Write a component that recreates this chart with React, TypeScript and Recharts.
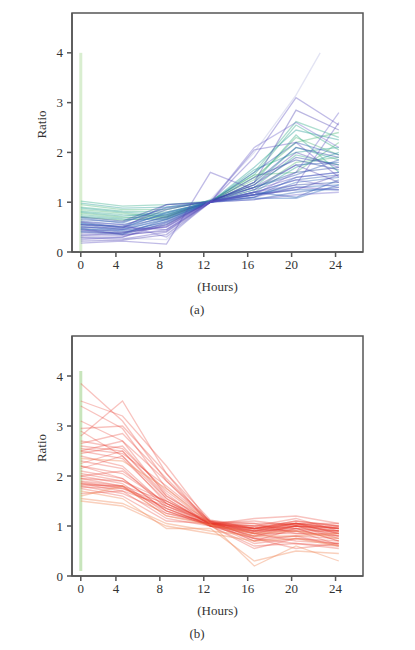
import React from "react";
import { LineChart, Line, XAxis, YAxis, ReferenceArea, ReferenceLine } from "recharts";

// ---- shared axis data ----
const xTickPos = [0.8, 4, 8, 12, 16, 20, 24];
const xTickLabels = ["0", "4", "8", "12", "16", "20", "24"];
const yTicks = [0, 1, 2, 3, 4];
const xDomain = [0, 26.5];
const yDomain = [0, 4.8];
const timesA = [0.8, 4.6, 8.6, 12.6, 16.6, 20.4, 24.3];
const timesB = [0.8, 4.6, 8.6, 12.6, 16.6, 20.4, 24.3];

// ---- panel (a) series ----
const greenA = [
  [1.02, 0.92, 0.95, 1.02, 1.55, 2.55, 2.05],
  [0.98, 0.88, 0.9, 1.0, 1.7, 2.45, 2.25],
  [0.95, 0.85, 0.85, 1.03, 1.45, 2.3, 1.95],
  [0.9, 0.82, 0.8, 1.0, 1.6, 2.62, 2.3],
  [0.88, 0.8, 0.75, 1.02, 1.35, 2.1, 1.85],
  [0.85, 0.78, 0.7, 1.0, 1.5, 2.2, 2.4],
  [0.82, 0.75, 0.72, 1.05, 1.3, 1.95, 1.75],
  [0.8, 0.72, 0.78, 1.0, 1.65, 2.0, 2.1],
  [0.78, 0.7, 0.68, 1.02, 1.25, 1.8, 1.9],
  [0.75, 0.68, 0.74, 1.0, 1.4, 2.35, 1.6],
  [0.72, 0.66, 0.65, 1.0, 1.2, 1.7, 2.0],
  [0.7, 0.64, 0.7, 1.02, 1.55, 1.6, 2.2],
];
const blueA = [
  [0.62, 0.55, 0.75, 1.0, 1.2, 1.45, 1.55],
  [0.6, 0.5, 0.7, 1.02, 1.15, 1.35, 1.4],
  [0.58, 0.48, 0.8, 1.0, 1.1, 1.5, 1.6],
  [0.55, 0.45, 0.65, 1.0, 1.25, 1.75, 1.8],
  [0.55, 0.52, 0.85, 1.03, 1.3, 1.6, 1.7],
  [0.52, 0.42, 0.6, 1.0, 1.15, 1.3, 1.35],
  [0.5, 0.46, 0.72, 1.0, 1.05, 1.2, 1.3],
  [0.48, 0.4, 0.55, 1.02, 1.35, 1.9, 1.75],
  [0.45, 0.44, 0.68, 1.0, 1.1, 1.4, 1.5],
  [0.42, 0.38, 0.62, 1.0, 1.2, 1.1, 1.45],
  [0.65, 0.6, 0.88, 1.0, 1.4, 2.1, 1.9],
  [0.68, 0.58, 0.9, 1.02, 1.15, 1.25, 1.25],
  [0.4, 0.35, 0.58, 1.0, 1.3, 1.55, 1.85],
  [0.7, 0.62, 0.95, 1.0, 1.5, 1.85, 1.65],
  [0.57, 0.5, 0.78, 1.01, 1.08, 1.08, 1.35],
  [0.47, 0.36, 0.66, 1.0, 1.6, 2.2, 1.95],
];
const purpleA = [
  [0.38, 0.4, 0.5, 1.0, 1.1, 1.3, 1.25],
  [0.35, 0.33, 0.45, 1.0, 1.2, 1.45, 1.3],
  [0.3, 0.3, 0.55, 1.0, 1.4, 2.85, 2.45],
  [0.28, 0.26, 0.4, 1.0, 2.05, 2.2, 1.5],
  [0.25, 0.3, 0.6, 1.0, 1.15, 1.6, 2.8],
  [0.22, 0.24, 0.35, 1.0, 1.3, 1.75, 1.4],
  [0.18, 0.22, 0.16, 1.6, 1.25, 1.5, 1.6],
  [0.42, 0.45, 0.5, 1.0, 1.05, 1.15, 1.2],
  [0.33, 0.38, 0.52, 1.02, 1.35, 2.0, 1.7],
  [0.5, 0.48, 0.95, 1.0, 1.2, 1.35, 2.6],
  [0.6, 0.55, 0.3, 1.0, 2.1, 2.6, 2.1],
  [0.45, 0.35, 0.42, 1.0, 1.15, 1.25, 1.55],
  [0.55, 0.5, 0.45, 1.0, 1.9, 3.1, 2.55],
];
const faintTimesA = [0.8, 4.6, 8.6, 12.6, 16.6, 20.4, 22.6];
const faintA = [0.3, 0.28, 0.25, 1.05, 2.0, 3.15, 4.0];
const guideA = [0, 4];
const guideB = [0.1, 4.1];
const guideT = 0.8;

// ---- panel (b) series ----
const redB = [
  [3.85, 3.1, 1.9, 1.1, 0.85, 1.0, 0.75],
  [3.5, 3.2, 2.2, 1.05, 0.95, 0.9, 0.8],
  [3.4, 2.95, 1.75, 1.08, 0.7, 0.8, 0.6],
  [3.1, 2.7, 1.6, 1.05, 0.9, 1.05, 0.95],
  [2.9, 2.4, 1.45, 1.1, 0.95, 1.1, 1.0],
  [2.8, 3.5, 2.05, 1.0, 0.75, 0.65, 0.55],
  [2.7, 2.55, 1.7, 1.05, 1.0, 1.15, 0.9],
  [2.6, 2.5, 1.55, 1.02, 0.8, 0.95, 0.7],
  [2.55, 2.45, 1.8, 1.1, 1.05, 0.85, 0.85],
  [2.5, 2.35, 1.5, 1.05, 0.65, 0.75, 0.65],
  [2.45, 2.6, 1.65, 1.0, 0.85, 1.0, 0.95],
  [2.4, 2.2, 1.4, 1.08, 0.95, 1.05, 1.05],
  [2.3, 2.15, 1.35, 1.02, 0.9, 0.95, 0.85],
  [2.25, 2.5, 1.6, 1.1, 0.75, 0.8, 0.75],
  [2.2, 2.05, 1.45, 1.05, 1.1, 1.0, 0.9],
  [2.15, 2.4, 1.55, 1.03, 0.85, 0.7, 0.65],
  [2.1, 1.95, 1.3, 1.0, 0.95, 1.05, 0.95],
  [2.05, 1.9, 1.4, 1.05, 0.8, 1.0, 0.8],
  [2.0, 1.85, 1.25, 1.08, 0.9, 0.9, 0.9],
  [1.95, 1.8, 1.35, 1.02, 1.0, 1.05, 0.85],
  [1.9, 1.8, 1.2, 1.05, 0.7, 0.95, 0.7],
  [1.88, 1.75, 1.45, 1.0, 0.88, 1.0, 0.95],
  [1.85, 1.78, 1.3, 1.05, 0.95, 1.1, 1.0],
  [1.85, 1.7, 1.15, 1.0, 0.6, 0.65, 0.6],
  [1.82, 1.8, 1.5, 1.05, 0.85, 0.85, 0.8],
  [1.8, 1.65, 1.25, 1.03, 1.15, 1.2, 1.05],
  [1.78, 1.75, 1.35, 1.0, 0.75, 0.55, 0.65],
  [1.75, 1.6, 1.1, 1.05, 0.95, 1.0, 0.9],
  [1.65, 1.7, 1.4, 1.0, 0.9, 1.05, 1.0],
  [2.65, 2.85, 1.95, 1.08, 1.0, 0.95, 0.9],
  [2.95, 3.0, 2.05, 1.12, 0.95, 1.05, 0.95],
  [2.2, 1.95, 1.3, 1.0, 0.55, 0.75, 0.7],
  [2.0, 2.1, 1.45, 1.05, 1.05, 1.05, 0.85],
  [1.95, 1.9, 1.5, 1.08, 0.78, 0.9, 0.62],
  [2.5, 2.7, 1.9, 1.05, 0.92, 1.0, 0.98],
];
const orangeB = [
  [2.35, 2.3, 1.75, 1.05, 0.2, 0.6, 0.3],
  [1.7, 1.55, 0.95, 0.95, 0.3, 0.5, 0.45],
  [1.6, 1.8, 1.2, 1.02, 0.85, 0.9, 0.75],
  [1.55, 1.45, 1.05, 0.9, 0.8, 0.8, 0.85],
  [1.5, 1.4, 1.0, 0.85, 0.7, 0.75, 0.6],
];

const greenCols = ["#3fb08e", "#2fa39a", "#56bb7e"];
const blueCols = ["#2f5cb4", "#2a4aa6", "#3a6fc0"];
const purpleCols = ["#5a4cbc", "#6a5fc8", "#4a40b0"];

type S = { vals: (number | null)[]; color: string; op: number };

function buildTable(times: number[], series: S[]) {
  return times.map((t, i) => {
    const row: Record<string, number | null> = { t };
    series.forEach((s, k) => {
      row["s" + k] = s.vals[i];
    });
    return row;
  });
}

const seriesA: S[] = [
  ...greenA.map((v, i) => ({ vals: v, color: greenCols[i % 3], op: 0.42 })),
  ...blueA.map((v, i) => ({ vals: v, color: blueCols[i % 3], op: 0.42 })),
  ...purpleA.map((v, i) => ({ vals: v, color: purpleCols[i % 3], op: 0.38 })),
];
const seriesB: S[] = [
  ...redB.map((v) => ({ vals: v, color: "#e8392c", op: 0.3 })),
  ...orangeB.map((v) => ({ vals: v, color: "#ef8a5a", op: 0.4 })),
];
const tableA = buildTable(timesA, seriesA);
const tableB = buildTable(timesB, seriesB);
const faintData = faintTimesA.map((t, i) => ({ t, v: faintA[i] }));

const FONT = "'Liberation Serif', 'DejaVu Serif', serif";
const AX = "#555";

function Panel({
  table,
  series,
  height,
  mb,
  guide,
  guideColor,
  guideOpacity,
  extra,
}: {
  table: any[];
  series: S[];
  height: number;
  mb: number;
  guide: number[];
  guideColor: string;
  guideOpacity: number;
  extra?: boolean;
}) {
  return (
    <LineChart
      width={415}
      height={height}
      data={table}
      margin={{ top: 13, right: 52, left: 42, bottom: mb }}
    >
      <XAxis
        dataKey="t"
        type="number"
        domain={xDomain}
        ticks={xTickPos}
        tickFormatter={(v: number) => xTickLabels[xTickPos.indexOf(v)]}
        allowDataOverflow
        height={30}
        stroke={AX}
        strokeWidth={1.5}
        tickSize={5}
        tickMargin={3}
        tick={{ fill: "#333", fontSize: 13, fontFamily: FONT }}
        label={{
          content: (p: any) => (
            <text
              x={p.viewBox.x + p.viewBox.width / 2}
              y={p.viewBox.y + 39}
              textAnchor="middle"
              fontFamily={FONT}
              fontSize={13}
              fill="#333"
            >
              (Hours)
            </text>
          ),
        }}
      />
      <YAxis
        type="number"
        domain={yDomain}
        ticks={yTicks}
        allowDataOverflow
        width={30}
        stroke={AX}
        strokeWidth={1.5}
        tickSize={5}
        tickMargin={4}
        tick={{ fill: "#333", fontSize: 13, fontFamily: FONT }}
        label={{
          content: (p: any) => {
            const cx = p.viewBox.x - 1;
            const cy = p.viewBox.y + p.viewBox.height / 2 - 8;
            return (
              <text
                x={cx}
                y={cy}
                transform={`rotate(-90 ${cx} ${cy})`}
                textAnchor="middle"
                dominantBaseline="central"
                fontFamily={FONT}
                fontSize={13}
                fill="#333"
              >
                Ratio
              </text>
            );
          },
        }}
      />
      <ReferenceArea
        x1={xDomain[0]}
        x2={xDomain[1]}
        y1={yDomain[0]}
        y2={yDomain[1]}
        fill="none"
        stroke={AX}
        strokeWidth={1.5}
      />
      <ReferenceLine
        segment={[
          { x: guideT, y: guide[0] },
          { x: guideT, y: guide[1] },
        ]}
        stroke={guideColor}
        strokeOpacity={guideOpacity}
        strokeWidth={3}
      />
      {series.map((s, k) => (
        <Line
          key={k}
          dataKey={"s" + k}
          stroke={s.color}
          strokeOpacity={s.op}
          strokeWidth={1.3}
          dot={false}
          activeDot={false}
          isAnimationActive={false}
        />
      ))}
      {extra && (
        <Line
          data={faintData}
          dataKey="v"
          stroke="#8a90d0"
          strokeOpacity={0.25}
          strokeWidth={1.3}
          dot={false}
          activeDot={false}
          isAnimationActive={false}
        />
      )}
    </LineChart>
  );
}

export default function App() {
  return (
    <div
      style={{
        position: "absolute",
        left: 0,
        top: 0,
        width: 415,
        height: 650,
        background: "#fff",
        overflow: "hidden",
      }}
    >
      <div style={{ position: "absolute", left: 0, top: 0 }}>
        <Panel
          table={tableA}
          series={seriesA}
          height={330}
          mb={48}
          guide={guideA}
          guideColor="#bfe3b0"
          guideOpacity={0.6}
          extra
        />
      </div>
      <div
        style={{
          position: "absolute",
          left: 187,
          top: 302,
          width: 20,
          textAlign: "center",
          fontFamily: FONT,
          fontSize: 13,
          color: "#333",
        }}
      >
        (a)
      </div>
      <div style={{ position: "absolute", left: 0, top: 323 }}>
        <Panel
          table={tableB}
          series={seriesB}
          height={327}
          mb={44}
          guide={guideB}
          guideColor="#b5dca5"
          guideOpacity={0.75}
        />
      </div>
      <div
        style={{
          position: "absolute",
          left: 187,
          top: 626,
          width: 20,
          textAlign: "center",
          fontFamily: FONT,
          fontSize: 13,
          color: "#333",
        }}
      >
        (b)
      </div>
    </div>
  );
}
